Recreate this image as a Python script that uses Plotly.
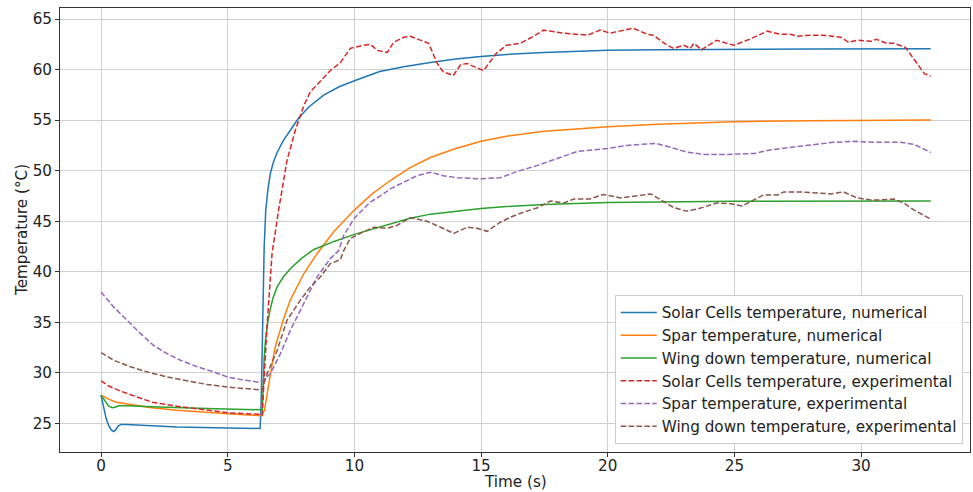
import plotly.graph_objects as go

# ---------------- data ----------------
solar_num_t = [0, 0.1, 0.2, 0.3, 0.4, 0.5, 0.58, 0.68, 0.8, 1.0, 1.5, 3, 5, 6.0, 6.28, 6.32, 6.36, 6.40, 6.44, 6.5,
               6.58, 6.68, 6.8, 6.95, 7.2, 7.5, 7.8, 8.2, 8.8, 9.4, 10, 11, 12, 13, 14, 15, 16, 17.5, 19, 20, 22, 25,
               28, 32.75]
solar_num_v = [27.8, 26.6, 25.5, 24.8, 24.35, 24.2, 24.35, 24.75, 24.9, 24.9, 24.85, 24.65, 24.55, 24.5, 24.5, 27.0,
               32.0, 38.0, 42.5, 46.0, 48.0, 49.7, 50.8, 51.8, 53.0, 54.1, 55.2, 56.3, 57.5, 58.3, 58.9, 59.8, 60.3,
               60.7, 61.05, 61.3, 61.5, 61.7, 61.85, 61.9, 61.95, 62.0, 62.03, 62.05]

spar_num_t = [0, 0.15, 0.3, 0.6, 1, 2, 3, 4, 5, 6, 6.35, 6.45, 6.55, 6.7, 6.85, 6.95, 7.2, 7.47, 7.75, 8.0, 8.53,
              9.2, 10, 10.7, 11.4, 12.2, 13, 14, 15, 16, 17.5, 19, 20, 22, 25, 28, 32.75]
spar_num_v = [27.8, 27.6, 27.4, 27.1, 26.95, 26.55, 26.3, 26.1, 25.95, 25.8, 25.75, 26.3, 27.8, 30.3, 32.3, 33.2,
              35.3, 37.2, 38.6, 39.8, 41.8, 44.0, 46.1, 47.7, 49.0, 50.3, 51.3, 52.2, 52.9, 53.4, 53.9, 54.2, 54.35,
              54.6, 54.85, 54.93, 55.0]

wing_num_t = [0, 0.1, 0.2, 0.3, 0.45, 0.55, 0.7, 1, 2, 3, 4.5, 6.3, 6.36, 6.40, 6.44, 6.5, 6.58, 6.68, 6.8, 6.95,
              7.2, 7.47, 7.9, 8.4, 9.2, 10, 10.7, 11.5, 12.2, 13, 14, 15, 16, 17.5, 20, 22.5, 25, 32.75]
wing_num_v = [27.8, 27.4, 27.0, 26.7, 26.55, 26.6, 26.75, 26.75, 26.65, 26.55, 26.45, 26.35, 26.3, 28.5, 31.5, 33.5,
              35.0, 36.3, 37.5, 38.5, 39.5, 40.3, 41.3, 42.2, 43.0, 43.7, 44.2, 44.8, 45.3, 45.7, 46.0, 46.25, 46.45,
              46.65, 46.85, 46.93, 46.97, 47.0]

solar_exp_t = [0, 0.3, 0.76, 1.5, 2, 3, 4, 5, 6.25, 6.36, 6.45, 6.55, 6.75, 7.01, 7.34, 7.67, 8.0, 8.26, 8.53, 9.05,
               9.45, 9.7, 9.84, 10.37, 10.63, 10.9, 11.3, 11.55, 11.95, 12.2, 12.6, 12.93, 13.05, 13.27, 13.5, 13.9,
               14.2, 14.45, 14.9, 15.1, 15.6, 16.0, 16.55, 17.08, 17.47, 18.26, 19.2, 19.7, 20.1, 21.0, 21.55, 21.8,
               22.35, 22.6, 23.0, 23.26, 23.4, 23.7, 24.3, 24.97, 25.6, 26.3, 26.8, 27.2, 27.5, 28, 28.5, 29.2, 29.5,
               29.85, 30.4, 30.6, 31.0, 31.3, 31.75, 32.2, 32.5, 32.75]
solar_exp_v = [29.2, 28.7, 28.2, 27.5, 27.1, 26.7, 26.35, 26.05, 25.9, 25.8, 30.0, 34.5, 41.8, 46.1, 51.0, 54.0, 56.4,
               57.8, 58.5, 59.9, 60.7, 61.6, 62.1, 62.4, 62.5, 61.9, 61.7, 62.7, 63.2, 63.3, 62.9, 62.6, 61.9, 60.6,
               59.8, 59.4, 60.5, 60.6, 60.1, 59.9, 61.6, 62.4, 62.6, 63.3, 63.9, 63.6, 63.4, 63.9, 63.6, 64.1, 63.5,
               63.4, 62.4, 62.1, 62.4, 62.1, 62.6, 61.96, 62.9, 62.4, 63.0, 63.8, 63.5, 63.5, 63.3, 63.4, 63.4, 63.2,
               62.7, 62.9, 62.8, 63.0, 62.6, 62.6, 62.2, 60.6, 59.6, 59.35]

spar_exp_t = [0, 0.5, 1.03, 1.55, 2.08, 2.6, 3.13, 3.79, 4.45, 4.97, 5.5, 6.29, 6.68, 7.08, 7.47, 8.0, 8.53, 9.05,
              9.38, 9.58, 10.0, 10.63, 11.03, 11.42, 11.82, 12.2, 12.47, 13.0, 13.5, 14.05, 15.0, 15.76, 16.4, 17.2,
              18.0, 18.8, 20.0, 20.77, 21.3, 21.9, 22.5, 23.1, 23.8, 24.6, 25.8, 26.3, 27.2, 28.1, 28.9, 29.7, 30.5,
              31.55, 32.1, 32.75]
spar_exp_v = [38.0, 36.5, 35.2, 33.9, 32.7, 31.9, 31.25, 30.6, 30.1, 29.6, 29.35, 29.05, 29.9, 31.9, 34.2, 36.9,
              39.5, 41.3, 42.1, 43.6, 45.3, 46.9, 47.5, 48.2, 48.7, 49.2, 49.5, 49.85, 49.5, 49.3, 49.2, 49.3, 49.9,
              50.5, 51.2, 51.9, 52.2, 52.5, 52.6, 52.7, 52.3, 51.85, 51.6, 51.6, 51.7, 52.0, 52.3, 52.6, 52.8, 52.9,
              52.8, 52.8, 52.6, 51.8]

wing_exp_t = [0, 0.5, 1.16, 1.8, 2.6, 3.4, 4.18, 4.97, 5.76, 6.36, 6.55, 6.95, 7.34, 7.87, 8.26, 8.66, 9.05, 9.45,
              9.58, 9.84, 10.24, 10.76, 11.3, 11.7, 12.2, 12.87, 13.4, 13.92, 14.45, 14.84, 15.24, 15.76, 16.16, 16.68,
              17.2, 17.74, 18.26, 18.66, 19.3, 19.84, 20.5, 21.16, 21.7, 22.1, 22.6, 23.1, 23.6, 24.3, 24.8, 25.3,
              25.8, 26.15, 26.7, 26.95, 27.6, 28.3, 28.8, 29.3, 29.85, 30.4, 30.75, 31.3, 31.7, 32.1, 32.75]
wing_exp_v = [32.0, 31.25, 30.6, 30.1, 29.6, 29.2, 28.85, 28.6, 28.45, 28.3, 29.9, 32.2, 35.2, 37.2, 38.5, 39.5, 40.8,
              41.2, 42.1, 43.3, 43.8, 44.4, 44.3, 44.6, 45.35, 45.0, 44.4, 43.8, 44.4, 44.3, 44.0, 44.9, 45.4, 45.9,
              46.3, 47.0, 46.8, 47.2, 47.2, 47.65, 47.3, 47.5, 47.7, 47.1, 46.35, 46.0, 46.25, 46.8, 46.75, 46.5, 47.1,
              47.6, 47.6, 47.9, 47.9, 47.8, 47.7, 47.9, 47.3, 47.1, 47.1, 47.2, 46.75, 46.1, 45.2]

x_ticks = [0, 5, 10, 15, 20, 25, 30]
y_ticks = [25, 30, 35, 40, 45, 50, 55, 60, 65]
x_title = "Time (s)"
y_title = "Temperature (°C)"

series = [
    ("Solar Cells temperature, numerical", solar_num_t, solar_num_v, "#1f77b4", "solid"),
    ("Spar temperature, numerical", spar_num_t, spar_num_v, "#ff7f0e", "solid"),
    ("Wing down temperature, numerical", wing_num_t, wing_num_v, "#2ca02c", "solid"),
    ("Solar Cells temperature, experimental", solar_exp_t, solar_exp_v, "#d62728", "5.5px,2.4px"),
    ("Spar temperature, experimental", spar_exp_t, spar_exp_v, "#9467bd", "5.5px,2.4px"),
    ("Wing down temperature, experimental", wing_exp_t, wing_exp_v, "#8c564b", "5.5px,2.4px"),
]

FONT = "DejaVu Sans"
FS = 15.2
TXT = "#222222"

fig = go.Figure()
for name, t, v, c, d in series:
    fig.add_trace(go.Scatter(x=t, y=v, mode="lines", name=name,
                             line=dict(color=c, width=1.5, dash=d)))

axis_common = dict(showline=True, linecolor="#333333", linewidth=1, mirror=True,
                   showgrid=True, gridcolor="#d0d0d0", gridwidth=1,
                   ticks="outside", ticklen=4, tickcolor="#333333", tickwidth=1,
                   zeroline=False, automargin=False,
                   tickfont=dict(family=FONT, size=FS, color=TXT))

fig.update_xaxes(range=[-1.62, 34.3], tickvals=x_ticks, ticktext=[str(x) for x in x_ticks],
                 ticklabelstandoff=-4, **axis_common)
fig.update_yaxes(range=[22.17, 66.09], tickvals=y_ticks, ticktext=[str(y) for y in y_ticks], **axis_common)

# axis titles placed as annotations (matplotlib-like positions)
fig.add_annotation(text=x_title, xref="paper", yref="paper", x=0.5, y=0, yshift=-30,
                   xanchor="center", yanchor="middle", showarrow=False, borderpad=0,
                   font=dict(family=FONT, size=FS, color=TXT))
fig.add_annotation(text=y_title, xref="paper", yref="paper", x=0, y=0.5, xshift=-38,
                   xanchor="center", yanchor="middle", textangle=-90, showarrow=False,
                   font=dict(family=FONT, size=FS, color=TXT))

fig.update_layout(
    width=973, height=492,
    margin=dict(l=60, r=3, t=8, b=40),
    paper_bgcolor="white", plot_bgcolor="white",
    font=dict(family=FONT, size=FS, color=TXT),
    legend=dict(x=0.992, y=0.018, xanchor="right", yanchor="bottom",
                bgcolor="rgba(255,255,255,0.85)", bordercolor="#cccccc", borderwidth=1,
                itemwidth=36,
                font=dict(family=FONT, size=FS, color=TXT)),
    showlegend=True,
)

fig.write_html("out.html")
